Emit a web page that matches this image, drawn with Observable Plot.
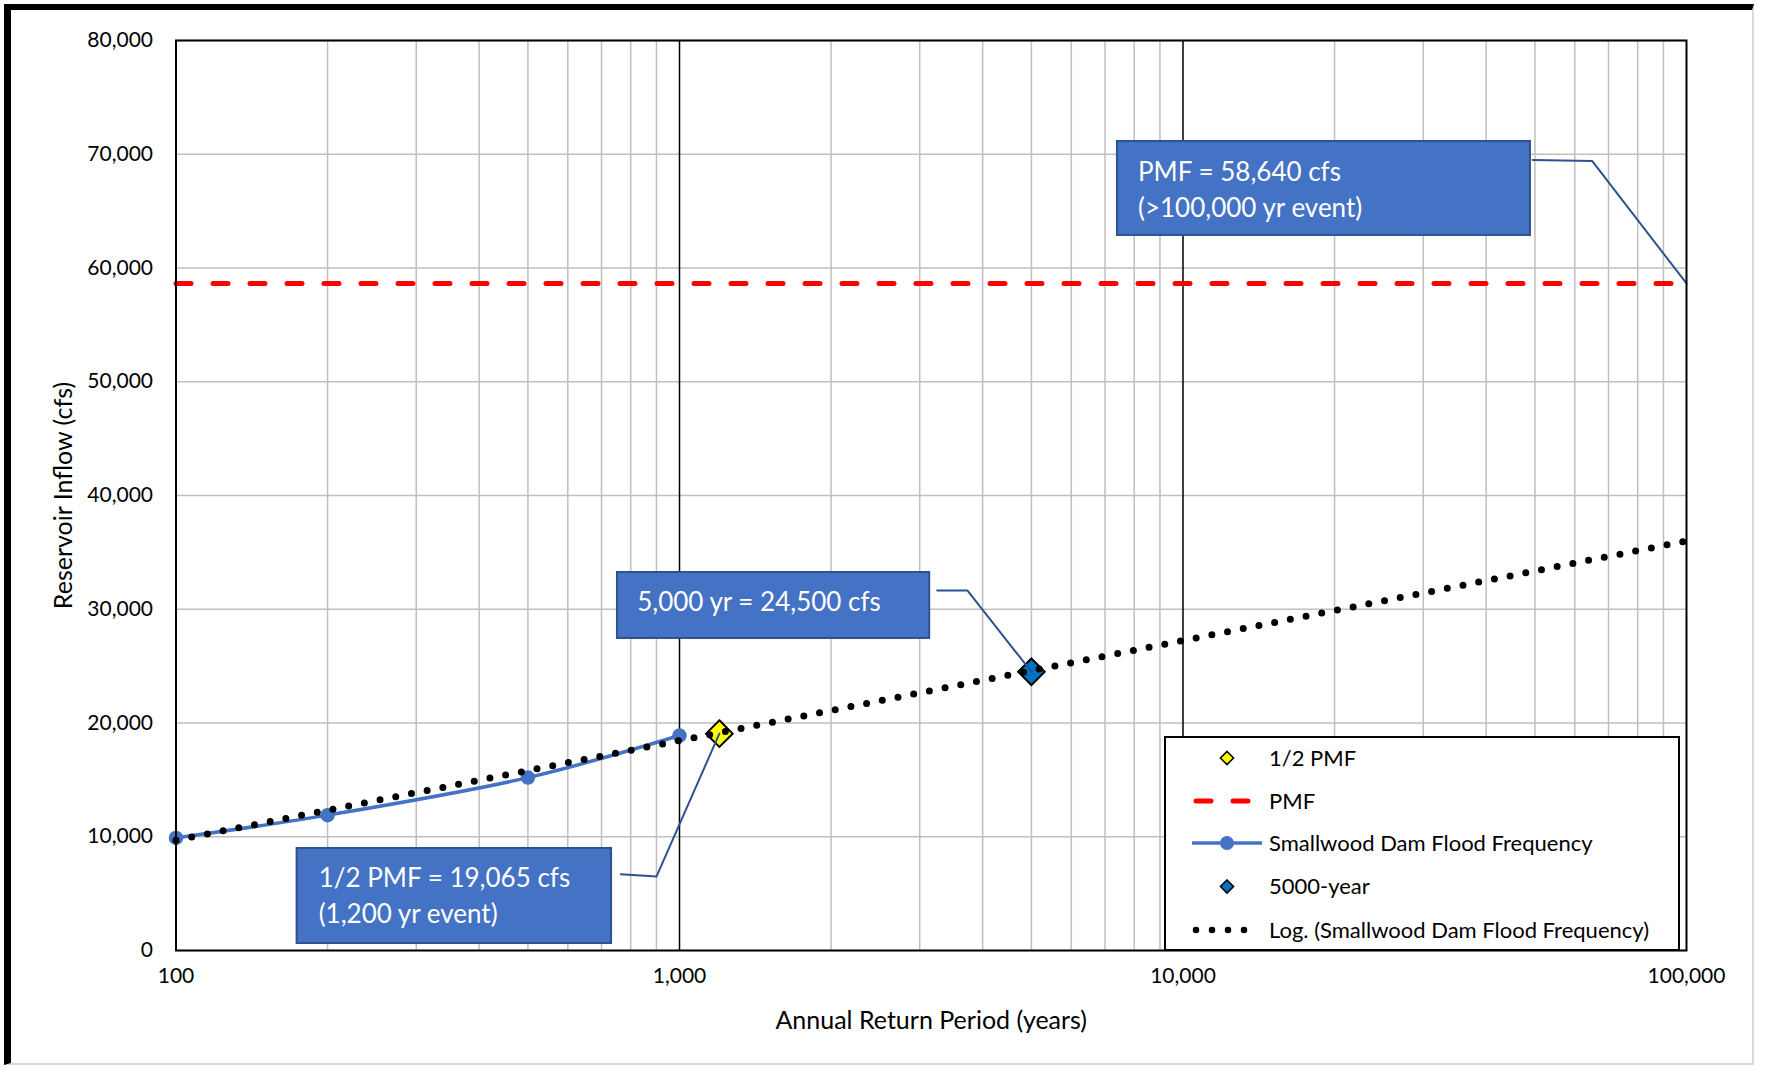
<!DOCTYPE html>
<html><head><meta charset="utf-8">
<script src="https://cdn.jsdelivr.net/npm/d3@7"></script>
<script src="https://cdn.jsdelivr.net/npm/@observablehq/plot@0.6"></script>
<style>
body{margin:0;background:#fff;font-family:Lato,sans-serif;}
#wrap{position:relative;width:1773px;height:1073px;overflow:hidden;background:#fff;}
#frame{position:absolute;left:4px;top:4px;width:1750px;height:1061px;border-left:7px solid #000;border-top:6px solid #000;border-right:2px solid #d9d9d9;border-bottom:2px solid #d9d9d9;box-sizing:border-box;pointer-events:none;z-index:5;}
#chart{position:absolute;left:0;top:0;}
#legend{position:absolute;left:1164px;top:736px;width:516px;height:215px;background:#fff;border:2px solid #000;box-sizing:border-box;z-index:3;}
</style></head>
<body><div id="wrap"><div id="frame"></div><div id="chart"></div><div id="legend"></div></div>
<script>
// ---- data ----
const freqYears = [100, 200, 500, 1000];
const freqCfs = [9900, 11900, 15200, 18900];
const trendYears = [100, 1000, 10000, 100000];
const trendCfs = [9700, 18450, 27250, 36000];
const pmfYears = [100, 100000];
const pmfCfs = 58640;
const halfPmfYears = [1200];
const halfPmfCfs = [19065];
const fiveKYears = [5000];
const fiveKCfs = [24500];
const xTicks = [100, 1000, 10000, 100000];
const xMinorTicks = [200,300,400,500,600,700,800,900,2000,3000,4000,5000,6000,7000,8000,9000,20000,30000,40000,50000,60000,70000,80000,90000];
const xMajorTicks = [1000, 10000];
const yTicks = [0,10000,20000,30000,40000,50000,60000,70000,80000];
const legendLabels = ["1/2 PMF","PMF","Smallwood Dam Flood Frequency","5000-year","Log. (Smallwood Dam Flood Frequency)"];

// ---- callouts (anchored in data units) ----
const calloutText = ["PMF = 58,640 cfs\n(>100,000 yr event)", "5,000 yr = 24,500 cfs", "1/2 PMF = 19,065 cfs\n(1,200 yr event)"];
const calloutX1 = [7410, 753, 174];
const calloutX2 = [48990, 3140, 733];
const calloutY1 = [62860, 27430, 615];
const calloutY2 = [71120, 33230, 8970];
const calloutTextX = [8140, 824, 192];
const calloutTextY = [67100, 30850, 4980];
const leaderX = [[49500, 65000, 100000],[3250, 3730, 5000],[765, 900, 1200]];
const leaderY = [[69500, 69400, 58640],[31650, 31650, 24500],[6700, 6500, 19065]];

const blue = "#4472C4", darkBlue = "#2F528F";
const freq = freqYears.map((x,i)=>({x, y:freqCfs[i]}));
const trend = trendYears.map((x,i)=>({x, y:trendCfs[i]}));
const pmf = pmfYears.map(x=>({x, y:pmfCfs}));
const halfPmf = halfPmfYears.map((x,i)=>({x, y:halfPmfCfs[i]}));
const fiveK = fiveKYears.map((x,i)=>({x, y:fiveKCfs[i]}));
const callouts = calloutText.map((t,i)=>({t, x1:calloutX1[i], x2:calloutX2[i], y1:calloutY1[i], y2:calloutY2[i], tx:calloutTextX[i], ty:calloutTextY[i]}));
const leaders = leaderX.flatMap((xs,i)=>xs.map((x,j)=>({x, y:leaderY[i][j], k:i})));

const chart = Plot.plot({
  width: 1773, height: 1073,
  marginLeft: 175.5, marginRight: 87, marginTop: 40, marginBottom: 123,
  style: {fontFamily: "Lato, sans-serif", fontSize: "21px", color: "#000", background: "transparent"},
  x: {type: "log", domain: [100, 100000]},
  y: {domain: [0, 80000]},
  marks: [
    Plot.gridX(xMinorTicks, {stroke: "#bfbfbf", strokeOpacity: 1, strokeWidth: 1.5}),
    Plot.gridY(yTicks, {stroke: "#bfbfbf", strokeOpacity: 1, strokeWidth: 1.5}),
    Plot.gridX(xMajorTicks, {stroke: "#000", strokeOpacity: 1, strokeWidth: 1.5}),
    Plot.axisX(xTicks, {tickFormat: d3.format(","), tickSize: 0, tickPadding: 18, fontSize: 21}),
    Plot.axisX({label: "Annual Return Period (years)", labelAnchor: "center", labelArrow: "none", labelOffset: 78, fontSize: 25, ticks: []}),
    Plot.axisY(yTicks, {tickFormat: d3.format(","), tickSize: 0, tickPadding: 23, fontSize: 21}),
    Plot.axisY({label: "Reservoir Inflow (cfs)", labelAnchor: "center", labelArrow: "none", labelOffset: 122, fontSize: 25, ticks: []}),
    Plot.line(pmf, {x: "x", y: "y", stroke: "#ff0000", strokeWidth: 5, strokeDasharray: "15 22", strokeLinecap: "round"}),
    Plot.line(freq, {x: "x", y: "y", stroke: blue, strokeWidth: 3.5, curve: "catmull-rom"}),
    Plot.dot(freq, {x: "x", y: "y", r: 6.5, fill: blue, stroke: blue}),
    Plot.dot(halfPmf, {x: "x", y: "y", symbol: "diamond2", r: 12, fill: "#ffff00", stroke: "#000", strokeWidth: 2}),
    Plot.dot(fiveK, {x: "x", y: "y", symbol: "diamond2", r: 12, fill: "#0070C0", stroke: "#000", strokeWidth: 2}),
    Plot.line(trend, {x: "x", y: "y", stroke: "#000", strokeWidth: 7, strokeDasharray: "0 16", strokeLinecap: "round"}),
    Plot.line(leaders, {x: "x", y: "y", z: "k", stroke: darkBlue, strokeWidth: 2}),
    Plot.rect(callouts, {x1: "x1", x2: "x2", y1: "y1", y2: "y2", fill: blue, stroke: darkBlue, strokeWidth: 2}),
    Plot.text(callouts, {x: "tx", y: "ty", text: "t", fill: "#fff", fontSize: 26, textAnchor: "start", lineHeight: 1.38}),
    Plot.frame({stroke: "#000", strokeWidth: 2})
  ]
});
document.getElementById("chart").appendChild(chart);

// ---- legend ----
const lg = d3.select("#legend").append("svg").attr("width", 512).attr("height", 211)
  .style("font-family", "Lato, sans-serif");
const rowY = [20, 63, 105, 148.5, 192];
const symX = 61, txtX = 103;
lg.selectAll("text").data(legendLabels).join("text")
  .attr("x", txtX).attr("y", (d,i)=>rowY[i]).attr("dy", "0.35em")
  .attr("font-size", 22).attr("fill", "#000").text(d=>d);
const diamond = d3.symbol(d3.symbolDiamond2, 110);
lg.append("path").attr("d", diamond()).attr("transform", `translate(${symX},${rowY[0]})`)
  .attr("fill", "#ffff00").attr("stroke", "#000").attr("stroke-width", 1.5);
lg.append("line").attr("x1", 28).attr("x2", 96).attr("y1", rowY[1]).attr("y2", rowY[1])
  .attr("stroke", "#ff0000").attr("stroke-width", 5).attr("stroke-dasharray", "15 22").attr("stroke-linecap", "round")
  .attr("transform", "translate(2,0)");
lg.append("line").attr("x1", 26).attr("x2", 96).attr("y1", rowY[2]).attr("y2", rowY[2])
  .attr("stroke", blue).attr("stroke-width", 3.5);
lg.append("circle").attr("cx", symX).attr("cy", rowY[2]).attr("r", 7).attr("fill", blue);
lg.append("path").attr("d", diamond()).attr("transform", `translate(${symX},${rowY[3]})`)
  .attr("fill", "#0070C0").attr("stroke", "#000").attr("stroke-width", 1.5);
lg.append("line").attr("x1", 30).attr("x2", 94).attr("y1", rowY[4]).attr("y2", rowY[4])
  .attr("stroke", "#000").attr("stroke-width", 6.5).attr("stroke-dasharray", "0 16").attr("stroke-linecap", "round");
</script>
</body></html>
